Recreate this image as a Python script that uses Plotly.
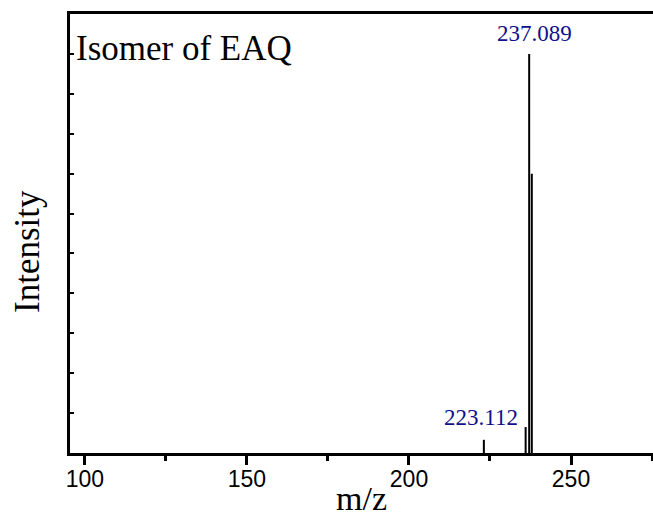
import plotly.graph_objects as go

# Data
mz_values = [223.112, 236.0, 237.089, 237.9]
intensities = [0.33, 0.65, 10.0, 7.0]
labeled_peaks = [237.089, 223.112]
labeled_texts = ["237.089", "223.112"]
x_tick_values = [100, 150, 200, 250]
x_tick_labels = ["100", "150", "200", "250"]

# Build stick-spectrum segments from the data arrays
xs, ys = [], []
for m, inten in zip(mz_values, intensities):
    xs += [m, m, None]
    ys += [0, inten, None]

fig = go.Figure()
fig.add_trace(go.Scatter(x=xs, y=ys, mode="lines",
                         line=dict(color="black", width=2),
                         hoverinfo="skip", showlegend=False))

serif = "Liberation Serif, Times New Roman, serif"
sans = "Liberation Sans, Arial, sans-serif"
label_color = "#10108c"

lookup = dict(zip(mz_values, intensities))
shifts = {237.089: (5, 6), 223.112: (-3, 8)}
for m, t in zip(labeled_peaks, labeled_texts):
    fig.add_annotation(x=m, y=lookup[m], text=t, showarrow=False,
                       xanchor="center", yanchor="bottom",
                       xshift=shifts[m][0], yshift=shifts[m][1],
                       font=dict(family=serif, size=23, color=label_color))

fig.add_annotation(xref="paper", yref="paper", x=0, y=1, text="Isomer of EAQ",
                   showarrow=False, xanchor="left", yanchor="top",
                   xshift=4, yshift=-13,
                   font=dict(family=serif, size=35, color="black"))

# y-axis title (placed slightly below centre, as in the reference)
fig.add_annotation(xref="paper", yref="paper", x=0, y=0.458, text="Intensity",
                   showarrow=False, textangle=-90, xanchor="center", yanchor="middle",
                   xshift=-42,
                   font=dict(family=serif, size=35, color="black"))

# x-axis title
fig.add_annotation(xref="paper", yref="paper", x=0.5, y=0, text="m/z",
                   showarrow=False, xanchor="center", yanchor="bottom",
                   yshift=-66,
                   font=dict(family=serif, size=34, color="black"))

fig.update_layout(
    width=653, height=520,
    margin=dict(l=70, r=0, t=14, b=67, autoexpand=False),
    paper_bgcolor="white", plot_bgcolor="white",
    xaxis=dict(
        range=[95.4, 275.3], automargin=False,
        tickmode="array", tickvals=x_tick_values, ticktext=x_tick_labels,
        ticks="outside", ticklen=9, tickwidth=3, tickcolor="black",
        ticklabelstandoff=-6,
        minor=dict(dtick=25, tick0=100, ticks="outside", ticklen=5,
                   tickwidth=2.5, tickcolor="black"),
        showline=True, linewidth=3, linecolor="black", mirror=True,
        showgrid=False, zeroline=False,
        tickfont=dict(family=sans, size=23, color="black"),
    ),
    yaxis=dict(
        range=[0, 11], dtick=1, tick0=0, automargin=False,
        ticks="inside", ticklen=4, tickwidth=1.5, tickcolor="black",
        showticklabels=False,
        showline=True, linewidth=3, linecolor="black", mirror=False,
        showgrid=False, zeroline=False,
    ),
)

fig.write_html("out.html", config={"displayModeBar": False},
               post_script="document.body.style.margin='0';document.body.style.overflow='hidden';")
